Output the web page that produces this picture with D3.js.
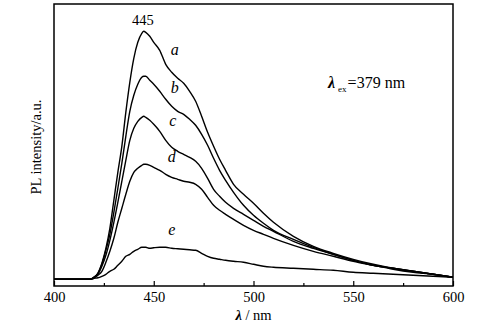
<!DOCTYPE html>
<html>
<head>
<meta charset="utf-8">
<script src="https://cdn.jsdelivr.net/npm/d3@7"></script>
<style>
  html, body { margin: 0; padding: 0; background: #fff; }
  svg { display: block; font-family: "Liberation Serif", "Times New Roman", serif; }
</style>
</head>
<body>
<svg id="chart" width="496" height="335"></svg>
<script>
// Emission wavelengths (nm) shared by all spectra
const wavelength = [400, 418, 420, 422, 424, 426, 428, 430, 432, 434, 436, 438, 440, 442, 444, 445, 446, 448, 450, 453, 456, 459, 462, 465, 468, 471, 474, 477, 480, 483, 486, 490, 495, 500, 505, 510, 520, 530, 540, 550, 560, 570, 580, 590, 600];

// PL intensity (a.u.) of samples a–e
const seriesA = [0, 0, 2, 6, 16, 31, 51, 79, 107, 133, 167, 197, 221, 237, 246, 248, 247, 243, 237, 229, 215, 207, 201, 196, 188, 178, 163, 147, 133, 120, 109, 95, 85, 76, 66, 57, 43, 33, 26, 20, 15, 11, 8, 5, 2];
const seriesB = [0, 0, 2, 6, 15, 29, 45, 67, 91, 116, 143, 168, 184, 195, 202, 203, 203, 199, 195, 188, 180, 173, 168, 165, 160, 154, 145, 134, 121, 109, 99, 87, 74, 64, 56, 49, 40, 32, 25, 19, 14, 11, 8, 5, 2];
const seriesC = [0, 0, 2, 5, 13, 24, 39, 57, 77, 98, 119, 139, 151, 158, 162, 163, 162, 159, 155, 148, 139, 132, 128, 125, 122, 118, 111, 101, 90, 83, 77, 71, 65, 59, 53, 48, 38, 31, 25, 19, 14, 11, 8, 5, 2];
const seriesD = [0, 0, 1, 4, 8, 17, 28, 41, 57, 71, 85, 98, 107, 111, 114, 115, 115, 114, 112, 109, 105, 102, 100, 98, 97, 95, 90, 82, 74, 69, 65, 60, 54, 49, 45, 41, 34, 28, 23, 18, 14, 10, 7, 5, 2];
const seriesE = [0, 0, 1, 1.5, 3, 5, 8, 10, 14, 18, 23, 25, 28, 30, 32, 32, 32, 31, 31.5, 32, 32, 31, 30.5, 30, 29.5, 29, 26, 23, 21, 20, 19, 18, 17, 15, 13, 12, 11, 10, 9, 7, 6, 5, 4, 3, 2];

const seriesNames = ["a", "b", "c", "d", "e"];
const seriesValues = [seriesA, seriesB, seriesC, seriesD, seriesE];
// Where each curve's letter sits (wavelength, intensity)
const labelPos = [[460.5, 224], [460.5, 186], [459.5, 153], [459, 117], [459, 44]];

const xTicks = [400, 450, 500, 550, 600];
const xMinorTicks = [425, 475, 525, 575];
const peakLabel = "445";
const peakWavelength = 444.5;
const excitation = "379 nm";

(function draw() {
  const svg = d3.select("#chart");
  const plotLeft = 54, plotRight = 453, plotTop = 4, plotBottom = 286;
  const serif = "'Liberation Serif', 'Times New Roman', serif";

  const x = d3.scaleLinear().domain([400, 600]).range([plotLeft, plotRight]);
  const y = d3.scaleLinear().domain([-6.7, 275.3]).range([plotBottom, plotTop]);

  // Spectra
  const line = d3.line()
    .x((d, i) => x(wavelength[i]))
    .y(d => y(d))
    .curve(d3.curveMonotoneX);

  svg.append("g")
    .selectAll("path")
    .data(seriesValues)
    .join("path")
    .attr("d", d => line(d))
    .attr("fill", "none")
    .attr("stroke", "#000")
    .attr("stroke-width", 1.4)
    .attr("stroke-linejoin", "round");

  // Frame
  svg.append("rect")
    .attr("x", plotLeft).attr("y", plotTop)
    .attr("width", plotRight - plotLeft).attr("height", plotBottom - plotTop)
    .attr("fill", "none").attr("stroke", "#000").attr("stroke-width", 1.5);

  // Bottom axis: inward major and minor ticks
  const axisMajor = d3.axisBottom(x).tickValues(xTicks).tickSize(-5).tickPadding(5.5).tickFormat(d3.format("d"));
  const gx = svg.append("g").attr("transform", `translate(0,${plotBottom})`).call(axisMajor)
    .attr("font-family", serif).attr("font-size", 14.5);
  gx.select(".domain").remove();
  gx.selectAll(".tick line").attr("stroke", "#000").attr("stroke-width", 1.2);
  gx.selectAll(".tick text").attr("font-family", serif).attr("font-size", 14.5).attr("fill", "#000");

  const axisMinor = d3.axisBottom(x).tickValues(xMinorTicks).tickSize(-3).tickFormat("");
  const gm = svg.append("g").attr("transform", `translate(0,${plotBottom})`).call(axisMinor);
  gm.select(".domain").remove();
  gm.selectAll(".tick line").attr("stroke", "#000").attr("stroke-width", 1.2);

  // Axis titles
  const xt = svg.append("text")
    .attr("x", x(500)).attr("y", 320)
    .attr("text-anchor", "middle").attr("font-size", 14.5);
  xt.append("tspan").attr("font-style", "italic").attr("font-weight", "bold").text("λ");
  xt.append("tspan").text(" / nm");

  svg.append("text")
    .attr("transform", `translate(41,${(plotTop + plotBottom) / 2 + 2}) rotate(-90)`)
    .attr("text-anchor", "middle").attr("font-size", 14.5)
    .text("PL intensity/a.u.");

  // Curve letters
  svg.append("g")
    .selectAll("text")
    .data(seriesNames)
    .join("text")
    .attr("x", (d, i) => x(labelPos[i][0]))
    .attr("y", (d, i) => y(labelPos[i][1]))
    .attr("text-anchor", "middle")
    .attr("font-style", "italic")
    .attr("font-size", 16)
    .text(d => d);

  // Peak position
  svg.append("text")
    .attr("x", x(peakWavelength)).attr("y", 25)
    .attr("text-anchor", "middle").attr("font-size", 14.5)
    .text(peakLabel);

  // Excitation wavelength
  const ex = svg.append("text").attr("x", 328).attr("y", 88).attr("font-size", 16);
  ex.append("tspan").attr("font-style", "italic").attr("font-weight", "bold").text("λ");
  ex.append("tspan").attr("font-size", 9).attr("dy", 4).attr("dx", 3).text("ex");
  ex.append("tspan").attr("dy", -4).attr("dx", 1).text("=" + excitation);
})();
</script>
</body>
</html>
